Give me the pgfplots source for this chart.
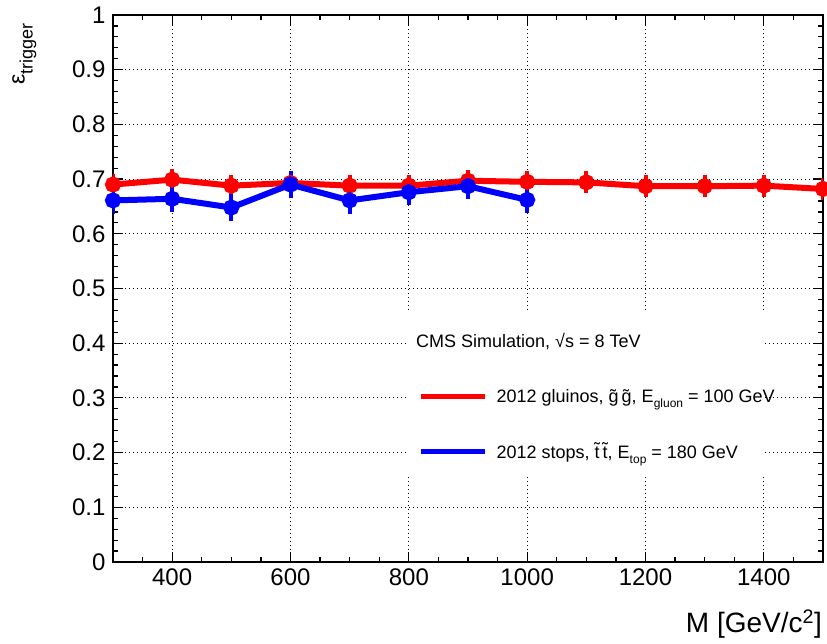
\documentclass[border=0pt]{standalone}
\usepackage{pgfplots}
\pgfplotsset{compat=1.18}
\usepackage{fontspec}
\setmainfont{Liberation Sans}
\definecolor{rootred}{RGB}{255,0,0}
\definecolor{rootblue}{RGB}{0,0,255}
\pgfplotstableread{
x y e
300 0.690 0.020
400 0.699 0.020
500 0.688 0.020
600 0.693 0.020
700 0.688 0.020
800 0.688 0.020
900 0.697 0.020
1000 0.695 0.020
1100 0.694 0.020
1200 0.687 0.020
1300 0.687 0.020
1400 0.688 0.020
1500 0.682 0.020
}\gluinos
\pgfplotstableread{
x y e
300 0.661 0.024
400 0.664 0.024
500 0.648 0.024
600 0.690 0.024
700 0.661 0.024
800 0.676 0.024
900 0.687 0.024
1000 0.662 0.024
}\stops
\begin{document}
\begin{tikzpicture}
\begin{axis}[
 name=main,
 scale only axis,
 width=710pt, height=547pt,
 xmin=300, xmax=1500, ymin=0, ymax=1,
 xtick={400,600,800,1000,1200,1400},
 ytick={0,0.1,0.2,0.3,0.4,0.5,0.6,0.7,0.8,0.9,1},
 minor xtick={300,350,...,1500},
 minor ytick={0,0.02,...,1.001},
 tick align=inside,
 major tick length=10pt,
 minor tick length=5pt,
 every tick/.style={black, line width=1.2pt},
 axis line style={line width=2.5pt},
 grid=major,
 major grid style={black, line width=0.9pt, dash pattern=on 1pt off 3pt},
 ticklabel style={font=\fontsize{24}{24}\selectfont},
 yticklabel style={xshift=-4pt},
 xticklabel style={yshift=-3pt},
 /pgf/number format/assume math mode=true,
 /pgf/number format/1000 sep={},
 xlabel={M [GeV/c\textsuperscript{2}]},
 xlabel style={at={(axis description cs:1,0)}, anchor=base east, inner sep=0pt, yshift=-71pt, xshift=-1pt, font=\fontsize{28}{28}\selectfont},
 ylabel={ε\raisebox{-8pt}{\fontsize{18}{18}\selectfont trigger}},
 ylabel style={at={(axis description cs:0,1)}, anchor=north east, inner sep=0pt, xshift=-8pt, yshift=101pt, font=\fontsize{23}{23}\selectfont},
 legend style={draw=none, fill=none, at={(axis cs:820,0.316)}, anchor=north west, inner sep=0pt, outer sep=0pt, row sep=39pt, font=\fontsize{18}{18}\selectfont, nodes={inner sep=0pt}, /tikz/every odd column/.append style={column sep=12pt}},
 legend cell align=left,
 legend image code/.code={\fill[#1, draw=none] (0pt,-2.5pt) rectangle (64pt,2.5pt);},
]
\addplot[rootred, line width=6pt, mark=*, mark size=5pt, error bars/.cd, y dir=both, y explicit, error mark=none, error bar style={line width=4pt, rootred}] table[x=x, y=y, y error=e] {\gluinos};
\addlegendentry{2012 gluinos, \~{g}\,\~{g}, E\raisebox{-5pt}{\fontsize{12}{12}\selectfont gluon} = 100 GeV}
\addplot[rootblue, line width=6pt, mark=*, mark size=5pt, error bars/.cd, y dir=both, y explicit, error mark=none, error bar style={line width=4pt, rootblue}] table[x=x, y=y, y error=e] {\stops};
\addlegendentry{2012 stops, \~{t}\,\~{t}, E\raisebox{-5pt}{\fontsize{12}{12}\selectfont top} = 180 GeV}
\fill[white] (axis cs:796,0.155) rectangle (axis cs:1402,0.458);
\node[anchor=base west, inner sep=0pt, font=\fontsize{18}{18}\selectfont] at (axis cs:812,0.393) {CMS Simulation, √s = 8 TeV};
\end{axis}
\pgfresetboundingbox
\path (main.south west) ++(-113pt,-82pt) coordinate (bl);
\path (main.south west) ++(714pt,562pt) coordinate (tr);
\useasboundingbox (bl) rectangle (tr);
\end{tikzpicture}
\end{document}
